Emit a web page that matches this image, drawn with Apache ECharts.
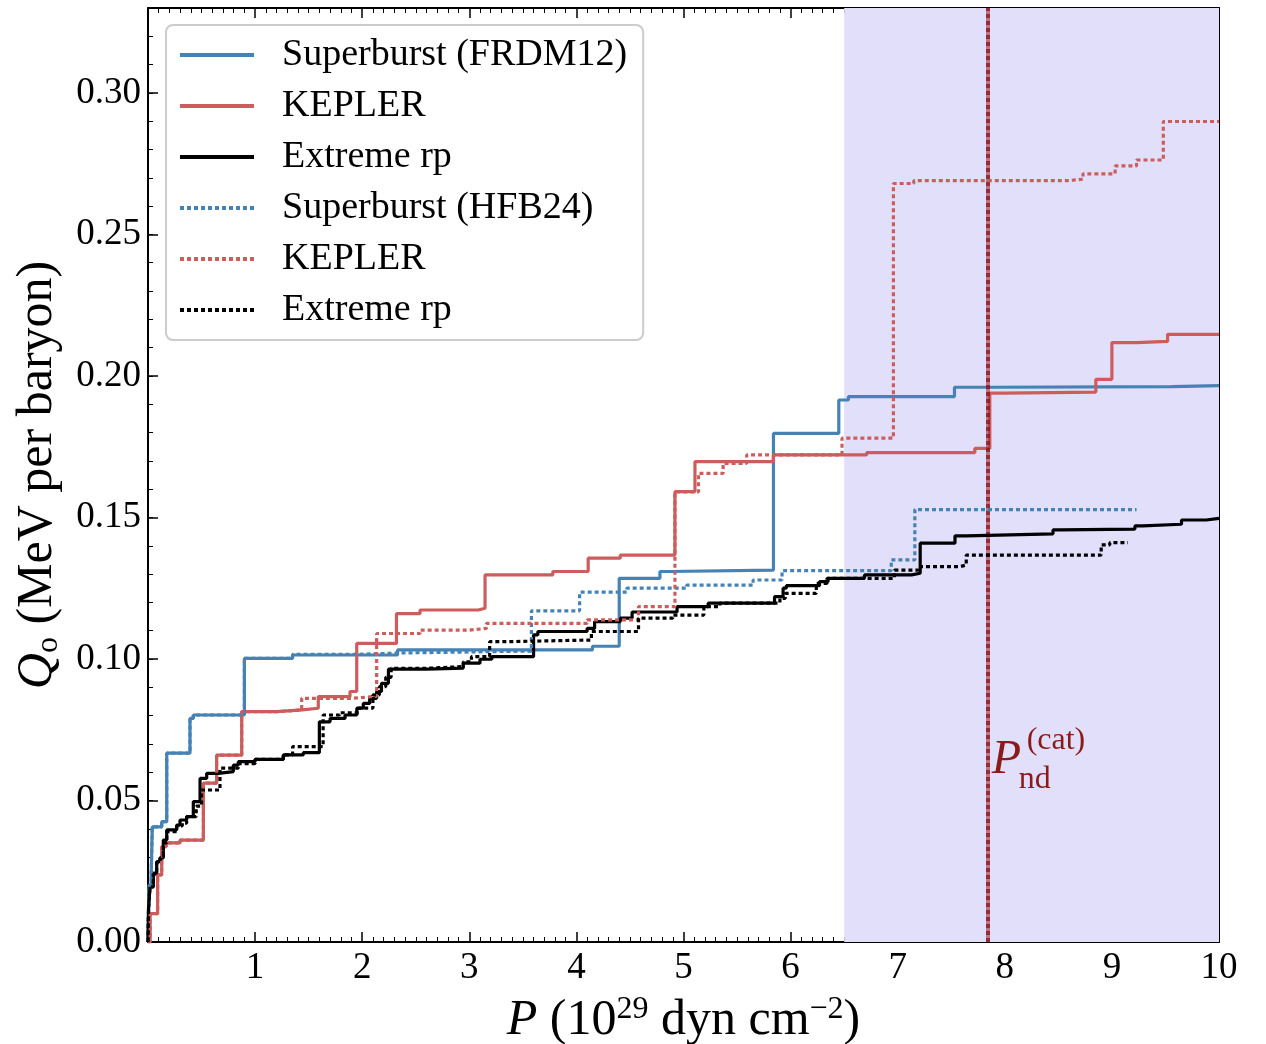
<!DOCTYPE html>
<html><head><meta charset="utf-8">
<script src="https://cdn.jsdelivr.net/npm/echarts@6/dist/echarts.min.js"></script>
<style>html,body{margin:0;padding:0;background:#fff}#c{width:1266px;height:1044px}</style>
</head><body><div id="c"></div>
<script>
// ---- data (x: P in 1e29 dyn cm^-2, y: Q in MeV per baryon) ----
const seriesNames = ['Superburst (FRDM12)', 'KEPLER', 'Extreme rp', 'Superburst (HFB24)', 'KEPLER', 'Extreme rp'];

const sbFRDM12 = [[0,0],[0.01,0.02],[0.03,0.024],[0.04,0.0407],[0.128,0.0425],[0.175,0.0667],[0.392,0.079],[0.423,0.0802],[0.9,0.1002],[1.35,0.1014],[2.33,0.1032],[4.15,0.1045],[4.40,0.1285],[4.78,0.1309],[4.87,0.1314],[5.84,0.1797],[6.45,0.1915],[6.54,0.1927],[7.53,0.196],[7.89,0.1962],[9.56,0.1966],[10,0.1966]];

const keplerFRDM12 = [[0,0],[0.02,0.01],[0.09,0.0237],[0.128,0.0337],[0.17,0.035],[0.3,0.036],[0.517,0.0561],[0.641,0.066],[0.875,0.0814],[1.2,0.082],[1.44,0.0826],[1.59,0.0867],[1.886,0.0885],[1.949,0.1055],[2.32,0.116],[2.54,0.1173],[3.084,0.1179],[3.147,0.1297],[3.78,0.1309],[4.11,0.1356],[4.41,0.1367],[4.92,0.1591],[5.107,0.1697],[5.839,0.1721],[6.71,0.1729],[7.72,0.1744],[7.86,0.1939],[8.0,0.1943],[8.85,0.1988],[9.0,0.2118],[9.23,0.2122],[9.52,0.2147],[10,0.2147]];

const rpFRDM12 = [[0,0],[0.005,0.012],[0.019,0.0195],[0.05,0.0243],[0.081,0.0284],[0.112,0.0297],[0.143,0.036],[0.175,0.0396],[0.268,0.0413],[0.299,0.0431],[0.361,0.0443],[0.423,0.0496],[0.486,0.0578],[0.548,0.0596],[0.657,0.0602],[0.797,0.0625],[0.843,0.0637],[1.0,0.0645],[1.263,0.0661],[1.45,0.0669],[1.6,0.0778],[1.70,0.079],[1.84,0.0802],[1.95,0.0826],[2.01,0.0843],[2.07,0.0861],[2.135,0.0885],[2.18,0.0914],[2.245,0.0964],[2.6,0.0968],[2.944,0.0985],[3.1,0.0999],[3.21,0.1008],[3.6,0.1085],[3.64,0.1097],[4.1,0.1108],[4.17,0.1132],[4.41,0.1144],[4.52,0.1166],[4.94,0.1185],[5.23,0.1197],[5.85,0.122],[5.93,0.125],[5.96,0.1259],[6.27,0.1273],[6.35,0.1285],[6.69,0.1297],[7.13,0.1303],[7.21,0.1409],[7.535,0.1435],[7.64,0.1442],[8.45,0.1456],[8.515,0.1459],[9.215,0.147],[9.29,0.1476],[9.65,0.1491],[9.88,0.1497],[10,0.1497]];

const sbHFB24 = [[0,0],[0.01,0.02],[0.03,0.024],[0.04,0.0407],[0.128,0.0425],[0.175,0.0667],[0.392,0.079],[0.423,0.0802],[0.9,0.1002],[1.35,0.1016],[1.95,0.1021],[2.33,0.1028],[3.58,0.117],[4.03,0.1236],[4.47,0.125],[5.03,0.1261],[5.65,0.1279],[5.92,0.1312],[6.94,0.135],[7.16,0.1528],[9.23,0.1528]];

const keplerHFB24 = [[0,0],[0.02,0.01],[0.09,0.0237],[0.128,0.0337],[0.17,0.035],[0.3,0.036],[0.517,0.0561],[0.641,0.066],[0.875,0.0814],[1.2,0.082],[1.435,0.0861],[1.9,0.0868],[2.135,0.109],[2.54,0.1102],[3.0,0.1108],[3.16,0.1126],[4.1,0.1138],[4.58,0.1185],[4.92,0.159],[5.14,0.1656],[5.37,0.1691],[5.59,0.1721],[6.48,0.178],[6.96,0.268],[7.15,0.269],[8.58,0.2695],[8.73,0.2714],[9.03,0.2742],[9.23,0.2763],[9.48,0.2899],[10,0.2899]];

const rpHFB24 = [[0,0],[0.005,0.012],[0.019,0.0195],[0.05,0.024],[0.081,0.028],[0.112,0.0297],[0.143,0.035],[0.175,0.039],[0.268,0.041],[0.32,0.042],[0.361,0.0443],[0.45,0.048],[0.5,0.0537],[0.672,0.0614],[0.843,0.063],[1.0,0.0645],[1.263,0.0661],[1.35,0.069],[1.635,0.0802],[1.79,0.081],[1.97,0.0826],[2.1,0.0873],[2.16,0.0902],[2.22,0.0935],[2.27,0.0967],[2.6,0.0973],[2.944,0.099],[3.02,0.1008],[3.19,0.1061],[3.33,0.1067],[4.14,0.1097],[4.58,0.1144],[4.9,0.1155],[5.19,0.1185],[5.34,0.1197],[5.9,0.1214],[5.95,0.1232],[6.24,0.1267],[6.34,0.1285],[6.97,0.1314],[7.19,0.1326],[7.58,0.1332],[7.64,0.1367],[8.9,0.1403],[8.98,0.1411],[9.15,0.1411]];

const shadedRange = [6.5, 10];
const pCat = 7.84;
const xRange = [0, 10];
const yRange = [0, 0.33];
const yTickStep = 0.05;
const yMinorStep = 0.01;
const xTickStep = 1;

// ---- chart ----
const FONT = "'Liberation Serif', 'DejaVu Serif', serif";
const BLUE = '#4682b4', RED = '#cd5c5c', BLACK = '#000000', DARKRED = '#8b1a1a';
const chart = echarts.init(document.getElementById('c'), null, {renderer: 'canvas'});

const allData = [sbFRDM12, keplerFRDM12, rpFRDM12, sbHFB24, keplerHFB24, rpHFB24];
const colors = [BLUE, RED, BLACK, BLUE, RED, BLACK];
const ids = seriesNames.map((n, i) => n + (i >= 3 ? ' \u2009' : ''));

const lineSeries = allData.map((d, i) => ({
  name: ids[i], type: 'line', data: d, step: 'end',
  symbol: 'none', showSymbol: false, animation: false,
  xAxisIndex: 0, yAxisIndex: 0, z: 3 + i,
  lineStyle: {color: colors[i], width: 3.2, type: i >= 3 ? [4, 3] : 'solid', cap: 'butt'},
  itemStyle: {color: colors[i]},
  emphasis: {disabled: true}
}));

const helper = {
  name: '__helper', type: 'line', data: [], xAxisIndex: 0, yAxisIndex: 0, z: 1, silent: true,
  markArea: {silent: true, itemStyle: {color: 'rgb(226,223,250)'},
    data: [[{xAxis: shadedRange[0]}, {xAxis: shadedRange[1]}]]}
};
const vline = {
  name: '__vline', type: 'line', data: [], xAxisIndex: 0, yAxisIndex: 0, z: 20, silent: true,
  markLine: {silent: true, symbol: 'none', animation: false, label: {show: false},
    data: [
      {xAxis: pCat, lineStyle: {color: 'rgba(150,30,40,0.55)', width: 4, type: 'solid'}},
      {xAxis: pCat, lineStyle: {color: 'rgba(140,20,30,0.75)', width: 4, type: [4, 3]}}
    ]},
  markPoint: {silent: true, symbol: 'circle', symbolSize: 0, animation: false,
    data: [
      {coord: [pCat, 0.0641], label: {show: true, position: 'right', distance: 4,
        formatter: 'P', fontFamily: FONT, fontStyle: 'italic', fontSize: 48, color: DARKRED}},
      {coord: [pCat, 0.0710], label: {show: true, position: 'right', distance: 39,
        formatter: '(cat)', fontFamily: FONT, fontSize: 32, color: DARKRED}},
      {coord: [pCat, 0.0575], label: {show: true, position: 'right', distance: 31,
        formatter: 'nd', fontFamily: FONT, fontSize: 32, color: DARKRED}}
    ]}
};

const axisLineStyle = {show: true, onZero: false, lineStyle: {color: '#000', width: 2}};
const noAxisLine = {show: false, onZero: false};
const majorTick = {show: true, inside: true, length: 10, lineStyle: {color: '#000', width: 1.5}};
const minorTickY = {show: true, inside: true, length: 5, lineStyle: {color: '#000', width: 1}};
const minorTickX = {show: true, splitNumber: 10, length: 5, lineStyle: {color: '#000', width: 1}};
const tickLabel = {fontFamily: FONT, fontSize: 37, color: '#000'};

const xBase = {type: 'value', min: xRange[0], max: xRange[1], interval: xTickStep,
  splitLine: {show: false}, axisLine: axisLineStyle, axisTick: majorTick, minorTick: minorTickX};
const yBase = {type: 'value', min: yRange[0], max: yRange[1], splitLine: {show: false}, offset: 0};

const option = {
  animation: false,
  backgroundColor: '#ffffff',
  grid: {left: 148, top: 8, right: 47, bottom: 102, containLabel: false, outerBoundsMode: 'none'},
  xAxis: [
    Object.assign({}, xBase, {position: 'bottom',
      axisLabel: {show: true, showMinLabel: false, margin: 8, ...tickLabel},
      name: '{i|P} (10{sup|29} dyn cm{sup|\u22122})', nameLocation: 'middle', nameGap: 52,
      nameTextStyle: {fontFamily: FONT, fontSize: 50, color: '#000', lineHeight: 54,
        rich: {i: {fontFamily: FONT, fontStyle: 'italic', fontSize: 50, lineHeight: 54},
               sup: {fontFamily: FONT, fontSize: 32, verticalAlign: 'top', lineHeight: 32}}}}),
    Object.assign({}, xBase, {position: 'top', axisLabel: {show: false}})
  ],
  yAxis: [
    Object.assign({}, yBase, {interval: yTickStep, position: 'left',
     axisLine: axisLineStyle, axisTick: majorTick,
     axisLabel: {show: true, showMaxLabel: false, margin: 7, formatter: v => v.toFixed(2), ...tickLabel},
     name: '{q|Q}{sub|o} (MeV per baryon)', nameLocation: 'middle', nameGap: 83,
     nameTextStyle: {fontFamily: FONT, fontSize: 50, color: '#000', lineHeight: 54,
       rich: {q: {fontFamily: FONT, fontStyle: 'italic', fontSize: 50, lineHeight: 54},
              sub: {fontFamily: FONT, fontSize: 32, verticalAlign: 'bottom', lineHeight: 32}}}}),
    Object.assign({}, yBase, {interval: yMinorStep, position: 'left',
     axisLine: noAxisLine, axisTick: minorTickY, axisLabel: {show: false}}),
    Object.assign({}, yBase, {interval: yTickStep, position: 'right',
     axisLine: axisLineStyle, axisTick: majorTick, axisLabel: {show: false}}),
    Object.assign({}, yBase, {interval: yMinorStep, position: 'right',
     axisLine: noAxisLine, axisTick: minorTickY, axisLabel: {show: false}})
  ],
  legend: {
    show: true, orient: 'vertical', left: 166, top: 25,
    data: ids,
    formatter: name => seriesNames[ids.indexOf(name)],
    itemWidth: 74, itemHeight: 14, itemGap: 11,
    padding: [10, 16, 10, 12],
    itemStyle: {opacity: 0},
    lineStyle: {width: 4},
    backgroundColor: 'rgba(255,255,255,0.85)', borderColor: '#cccccc', borderWidth: 2, borderRadius: 7,
    textStyle: {fontFamily: FONT, fontSize: 38, color: '#000', lineHeight: 40, padding: [0, 0, 0, 23]},
    selectedMode: false
  },
  series: [helper, ...lineSeries, vline]
};
chart.setOption(option);
</script>
</body></html>
